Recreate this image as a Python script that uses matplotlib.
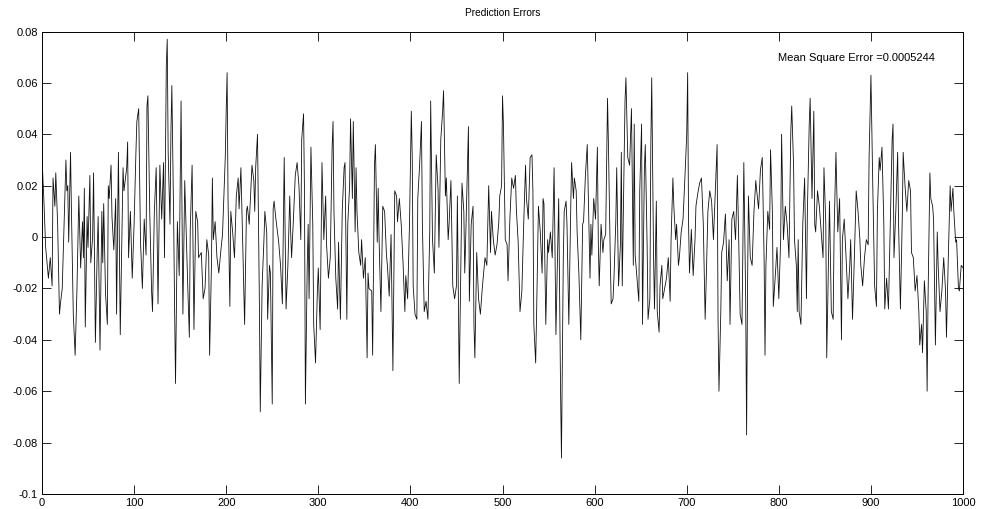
import matplotlib
matplotlib.use("Agg")
import matplotlib.pyplot as plt
from matplotlib.ticker import FuncFormatter

plt.rcParams["font.family"] = ["Liberation Sans", "DejaVu Sans"]

# prediction error samples (index, error)
sample_idx = [
    0, 2, 4, 7, 9, 11, 12, 14, 15, 17, 19, 20, 22, 24, 26, 27, 28, 29, 31, 32,
    34, 36, 38, 40, 42, 44, 45, 46, 47, 49, 50, 52, 53, 55, 56, 58, 60, 61, 63, 65,
    66, 67, 69, 71, 72, 73, 75, 76, 78, 80, 81, 83, 85, 87, 88,
    89, 92, 93, 94, 96, 98, 100, 102, 103, 105, 107, 109, 111, 113, 114, 115, 117, 119, 120, 122,
    124, 126, 128, 130, 132, 133, 135, 136, 137, 139, 140, 141, 143, 144, 145, 147, 149, 151, 153, 155,
    158, 160, 161, 163, 165, 167, 169, 170, 173, 175, 177, 179, 181, 182,
    184, 185, 186, 188, 190, 192, 194, 196, 199, 200, 201, 202, 204, 205, 207, 209, 211, 213, 214, 216,
    218, 220, 222, 223, 225, 228, 230, 231, 232, 234, 236, 237, 239, 241, 242, 244, 245, 247, 248, 250,
    251, 252, 254, 257, 259, 261, 263, 265, 267, 269, 270,
    271, 273, 275, 277, 279, 281, 282, 284, 285, 286, 288, 289, 290, 292, 294, 295, 297, 299, 300, 302,
    304, 306, 308, 309, 311, 313, 315, 316, 317, 319, 321, 322, 324, 326, 328, 329, 331, 332, 334, 335,
    337, 338, 340, 341, 342, 344, 346, 347, 349, 351, 353, 354, 355, 358, 359, 361, 362, 364,
    365, 366, 368, 370, 372, 374, 375, 377, 379, 381, 383, 385, 386, 388, 390, 392, 394, 395, 397, 399,
    401, 402, 403, 405, 407, 408, 410, 412, 413, 415, 417, 419, 421, 422, 424, 426, 428, 430, 431, 433,
    435, 436, 438, 439, 441, 442, 444, 446, 448, 450, 451, 453,
    456, 458, 459, 460, 463, 464, 466, 468, 469, 470, 472, 474, 476, 478, 479, 481, 483, 485, 487, 488,
    490, 492, 494, 496, 497, 499, 500, 501, 503, 505, 506, 508, 510, 512, 514, 515, 517, 519, 521, 523,
    525, 526, 528, 530, 532, 533, 534, 536, 537, 539, 541, 543, 544,
    545, 547, 549, 550, 552, 554, 556, 558, 559, 561, 563, 564, 566, 567, 569, 570, 572, 574, 575, 577,
    578, 580, 581, 583, 585, 587, 588, 590, 592, 593, 595, 596, 597, 599, 601, 603, 604, 605, 607, 609,
    610, 612, 614, 615, 617, 618, 620, 621, 623, 624, 626, 628, 629, 630, 632, 633, 634,
    636, 638, 640, 642, 643, 644, 646, 648, 649, 651, 652, 654, 655, 657, 658, 660, 661, 662, 664, 665,
    667, 668, 670, 671, 673, 674, 676, 678, 680, 682, 683, 685, 686, 688, 689, 691, 692, 694, 696, 698,
    700, 701, 702, 703, 705, 707, 709, 710, 712, 714, 716, 718, 720, 721, 723, 725, 727,
    729, 731, 733, 734, 735, 737, 738, 740, 742, 744, 746, 747, 749, 751, 753, 755, 756, 758, 760, 762,
    764, 765, 766, 767, 769, 771, 773, 775, 776, 778, 780, 782, 784, 785, 786, 788, 790, 791, 793, 794,
    796, 798, 800, 802, 803, 805, 807, 809, 811, 813, 814, 816, 817, 819, 820,
    821, 822, 824, 826, 828, 830, 831, 833, 834, 836, 838, 839, 840, 842, 844, 846, 848, 849, 851, 852,
    853, 855, 857, 859, 860, 862, 864, 866, 868, 869, 871, 873, 875, 877, 878, 880, 882, 884, 886, 888,
    889, 891, 893, 895, 897, 898, 900, 902, 904, 906, 907, 909,
    910, 912, 914, 915, 917, 919, 921, 923, 924, 925, 927, 929, 930, 932, 934, 935, 937, 939, 941, 943,
    944, 946, 948, 950, 952, 953, 955, 956, 958, 960, 961, 962, 964, 965, 967, 968, 970, 972, 973, 975,
    977, 979, 981, 982, 984, 986, 987, 989, 990, 992, 993, 995, 996, 998, 1000,
]

error_val = [
    0.031, 0.015, -0.004, -0.016, -0.008, -0.019, 0.023, 0.012, 0.025, 0.005, -0.030, -0.026, -0.020, 0.005, 0.030, 0.018, 0.020, -0.002, 0.033, 0.010,
    -0.030, -0.046, -0.020, 0.016, -0.012, 0.006, -0.008, 0.019, -0.035, 0.008, -0.004, 0.024, -0.010, 0.000, 0.025, -0.041, -0.005, 0.008, -0.044, 0.010,
    -0.010, 0.013, -0.022, -0.034, 0.020, 0.015, 0.028, 0.008, -0.005, 0.015, -0.030, 0.033, -0.038, 0.006, 0.027,
    0.018, 0.027, 0.037, -0.008, 0.010, -0.016, 0.005, 0.033, 0.045, 0.050, -0.002, -0.020, 0.007, -0.007, 0.051, 0.055, 0.010, -0.021, -0.029, 0.010,
    0.027, -0.026, 0.028, 0.007, 0.029, -0.008, 0.067, 0.077, 0.033, 0.005, 0.041, 0.059, 0.006, -0.028, -0.057, 0.006, -0.015, 0.053, -0.030, 0.022,
    -0.016, -0.039, 0.003, 0.028, -0.036, 0.010, 0.006, -0.008, -0.006, -0.024, -0.020, -0.001, -0.007, -0.046,
    -0.011, 0.023, -0.001, 0.006, -0.008, -0.014, -0.006, 0.001, 0.031, 0.049, 0.064, 0.015, -0.027, 0.010, 0.002, -0.008, 0.016, 0.023, 0.011, 0.027,
    -0.003, -0.034, 0.010, 0.012, 0.005, 0.028, 0.022, 0.010, 0.027, 0.040, -0.024, -0.068, -0.019, -0.001, 0.010, 0.002, -0.032, -0.011, -0.014, -0.065,
    0.011, 0.014, 0.007, -0.002, -0.011, -0.026, 0.031, -0.028, -0.011, 0.016, 0.002,
    -0.008, 0.007, 0.024, 0.029, 0.020, -0.001, 0.038, 0.048, 0.018, -0.065, -0.011, 0.005, -0.024, 0.035, 0.005, -0.034, -0.049, -0.021, -0.012, -0.036,
    0.029, -0.001, 0.016, -0.003, -0.016, -0.008, 0.035, 0.045, 0.010, -0.016, -0.028, -0.002, -0.032, 0.010, 0.027, 0.029, -0.032, 0.005, 0.020, 0.046,
    0.015, 0.045, 0.002, 0.027, 0.010, -0.006, -0.011, -0.001, -0.016, -0.008, -0.047, -0.014, -0.020, -0.021, -0.046, 0.028, 0.036, -0.002,
    0.019, -0.001, -0.029, 0.012, 0.010, -0.007, -0.011, -0.023, 0.001, -0.052, 0.018, 0.016, 0.006, 0.015, 0.005, -0.010, -0.029, -0.015, -0.024, 0.005,
    0.049, 0.031, -0.019, -0.030, -0.032, 0.015, 0.028, 0.045, 0.005, -0.029, -0.025, -0.032, 0.002, 0.053, -0.001, -0.014, 0.032, 0.019, -0.004, 0.038,
    0.049, 0.057, 0.016, 0.023, -0.001, 0.005, 0.022, -0.019, -0.024, -0.019, 0.016, -0.057,
    0.021, 0.010, -0.014, -0.001, 0.043, -0.025, 0.005, 0.012, -0.034, -0.047, -0.006, -0.024, -0.030, -0.020, -0.016, -0.008, -0.011, 0.020, -0.006, 0.010,
    -0.001, -0.007, -0.003, 0.006, 0.016, 0.020, 0.055, 0.044, -0.001, -0.003, -0.017, 0.007, 0.023, 0.019, 0.024, 0.011, -0.002, -0.029, -0.021, 0.005,
    0.028, 0.015, 0.007, 0.031, 0.032, 0.018, -0.034, -0.049, -0.030, 0.012, 0.002, -0.014, 0.015,
    0.013, -0.034, -0.001, -0.006, 0.002, -0.008, 0.027, -0.038, -0.021, 0.015, -0.059, -0.086, -0.008, 0.010, 0.014, 0.005, -0.034, 0.010, 0.029, 0.015,
    0.023, 0.018, 0.002, -0.015, -0.040, 0.005, 0.006, 0.024, 0.036, 0.018, -0.016, 0.005, -0.007, 0.015, 0.007, 0.035, -0.002, -0.019, 0.005, -0.006,
    -0.001, 0.001, 0.054, 0.036, -0.008, -0.026, -0.024, -0.016, 0.006, 0.027, -0.019, -0.003, 0.033, -0.019, 0.028, 0.053, 0.062,
    0.031, 0.028, 0.050, -0.011, 0.044, -0.007, -0.016, -0.025, 0.018, 0.044, -0.034, 0.026, 0.036, -0.003, -0.032, -0.024, 0.035, 0.062, -0.008, -0.028,
    0.014, -0.029, -0.037, -0.019, -0.011, -0.024, -0.020, -0.016, -0.008, -0.025, -0.001, 0.023, 0.012, -0.001, 0.005, -0.011, -0.008, 0.002, 0.007, 0.023,
    0.040, 0.064, 0.005, -0.014, 0.003, -0.015, -0.001, 0.012, 0.017, 0.021, 0.023, 0.005, -0.032, -0.019, 0.010, 0.018, 0.014,
    -0.001, 0.018, 0.036, -0.032, -0.060, -0.029, -0.006, -0.002, 0.009, -0.017, -0.001, -0.034, 0.007, 0.010, -0.001, 0.024, 0.007, -0.030, -0.034, 0.029,
    -0.024, -0.077, -0.021, 0.016, -0.008, -0.011, 0.010, 0.022, 0.018, 0.011, 0.026, 0.031, -0.008, -0.046, -0.011, 0.010, 0.003, 0.034, 0.010, -0.027,
    -0.016, -0.004, -0.024, -0.001, 0.040, -0.001, 0.012, 0.005, -0.008, 0.041, 0.051, 0.028, -0.001, -0.011, -0.029,
    -0.001, -0.029, -0.034, 0.005, 0.023, -0.024, 0.010, 0.044, 0.054, 0.015, 0.049, 0.005, 0.002, 0.018, 0.012, 0.002, -0.008, 0.027, 0.005, -0.047,
    -0.028, 0.014, -0.029, -0.032, 0.002, 0.033, 0.002, 0.015, -0.040, -0.001, 0.007, -0.008, -0.024, -0.011, -0.001, -0.032, -0.008, 0.018, 0.010, -0.001,
    -0.011, -0.019, -0.008, -0.001, -0.003, 0.031, 0.063, 0.020, -0.019, -0.027, 0.010, 0.031,
    0.026, 0.035, 0.005, -0.028, -0.016, -0.028, 0.005, 0.038, 0.044, -0.008, 0.010, 0.033, 0.005, -0.028, 0.007, 0.033, 0.020, 0.010, 0.022, 0.018,
    -0.006, -0.008, -0.021, -0.015, -0.029, -0.042, -0.034, -0.045, -0.017, -0.029, -0.060, -0.024, 0.025, 0.015, 0.012, 0.007, -0.042, 0.002, -0.011, -0.029,
    -0.021, -0.008, -0.021, -0.039, -0.008, 0.020, 0.010, 0.019, 0.010, -0.002, -0.001, -0.020, -0.021, -0.011, -0.012,
]

mse = 0.0005244

x_ticks = [0, 100, 200, 300, 400, 500, 600, 700, 800, 900, 1000]
y_ticks = [-0.1, -0.08, -0.06, -0.04, -0.02, 0, 0.02, 0.04, 0.06, 0.08]

fig = plt.figure(figsize=(9.83, 5.09), dpi=100)
ax = fig.add_axes([0.0427, 0.0295, 0.937, 0.9085])

ax.plot(sample_idx, error_val, color="#111111", linewidth=0.6)

ax.set_xlim(0, 1000)
ax.set_ylim(-0.1, 0.08)
ax.set_xticks(x_ticks)
ax.set_yticks(y_ticks)
ax.yaxis.set_major_formatter(FuncFormatter(lambda v, pos: "%g" % round(v, 4)))

ax.tick_params(direction="in", length=6.5, width=0.6, top=True, right=True,
               labelsize=8, pad=3)
for spine in ax.spines.values():
    spine.set_linewidth(0.7)

ax.set_title("Prediction Errors", fontsize=7.3, pad=11)
ax.text(0.799, 0.943, "Mean Square Error =%s" % mse, transform=ax.transAxes,
        fontsize=8, ha="left", va="center")

fig.savefig("out.png", dpi=100)
